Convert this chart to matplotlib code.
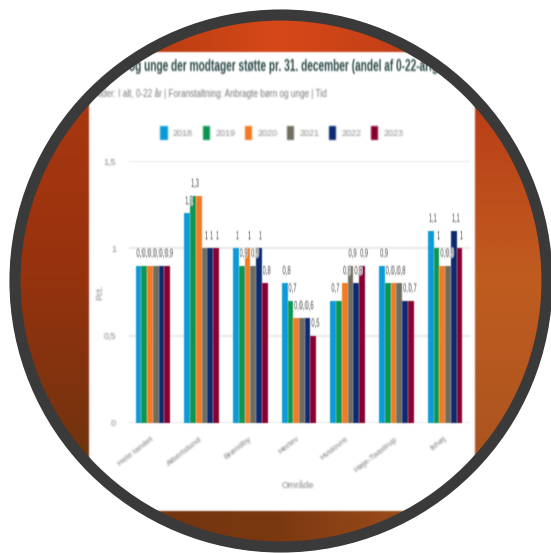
import numpy as np
import matplotlib
matplotlib.use("Agg")
import matplotlib.pyplot as plt
import matplotlib.patheffects as pe
from matplotlib.patches import Circle, Rectangle, Wedge

areas = ["Hele landet", "Albertslund", "Brøndby", "Herlev", "Hvidovre", "Høje-Taastrup", "Ishøj"]
years = ["2018", "2019", "2020", "2021", "2022", "2023"]
colors = ["#0a9bd8", "#0b9650", "#f27a22", "#6f6d5e", "#0b2a70", "#88002f"]
v2018 = [0.9, 1.2, 1.0, 0.8, 0.7, 0.9, 1.1]
v2019 = [0.9, 1.3, 0.9, 0.7, 0.7, 0.8, 1.0]
v2020 = [0.9, 1.3, 1.0, 0.6, 0.8, 0.8, 0.9]
v2021 = [0.9, 1.0, 0.9, 0.6, 0.9, 0.8, 0.9]
v2022 = [0.9, 1.0, 1.0, 0.6, 0.8, 0.7, 1.1]
v2023 = [0.9, 1.0, 0.8, 0.5, 0.9, 0.7, 1.0]
series = [v2018, v2019, v2020, v2021, v2022, v2023]
y_ticks = [0, 0.5, 1, 1.5]
y_tick_labels = ["0", "0,5", "1", "1,5"]
# labels the chart dropped because they collided: (area, year)
hidden_labels = [(1, 2), (4, 1)]

title = "Børn og unge der modtager støtte pr. 31. december (andel af 0-22-årige)"
subtitle = "Alder: I alt, 0-22 år | Foranstaltning: Anbragte børn og unge | Tid"

W, H = 551, 553
plt.rcParams["font.family"] = ["Liberation Sans", "DejaVu Sans"]


def soften(sigma, squeeze=1.0, anchor=0.0, shift=0):
    # blur of the upscaled screenshot, squeeze narrows condensed text
    def _filter(img, dpi):
        pad = int(3 * sigma) + 1
        a = np.pad(img, ((pad, pad), (pad, pad), (0, 0)))
        a[..., :3] *= a[..., 3:]
        ks = np.arange(-pad, pad + 1)
        ws = np.exp(-ks ** 2 / (2 * sigma ** 2))
        ws /= ws.sum()
        for axis in (0, 1):
            a = sum(w * np.roll(a, k, axis=axis) for k, w in zip(ks, ws))
        ox = -pad
        if squeeze != 1.0:
            w_old = a.shape[1]
            w_new = max(int(w_old * squeeze), 1)
            xs = np.linspace(0, w_old - 1.001, w_new)
            i0 = xs.astype(int)
            f = (xs - i0)[None, :, None]
            a = a[:, i0] * (1 - f) + a[:, i0 + 1] * f
            ox = int((w_old - w_new) * anchor) - int(pad * squeeze)
        alpha = np.maximum(a[..., 3:], 1e-4)
        a[..., :3] = np.clip(a[..., :3] / alpha, 0, 1)
        return a, ox + shift, -pad
    return _filter


fig = plt.figure(figsize=(W / 100, H / 100), dpi=100, facecolor="white")

# backdrop, in pixel coordinates
bg = fig.add_axes([0, 0, 1, 1])
bg.set_xlim(0, W)
bg.set_ylim(H, 0)
bg.axis("off")
backdrop = np.array([
    [[170, 56, 16], [214, 72, 24], [186, 60, 22]],
    [[150, 50, 14], [200, 70, 22], [192, 92, 32]],
    [[112, 52, 14], [122, 56, 16], [170, 84, 30]],
]) / 255
bg.imshow(backdrop, extent=(0, W, H, 0), interpolation="bilinear", aspect="auto", zorder=1)
card = Rectangle((89, 52), 386, 459, fc="white", ec="none", zorder=2)
bg.add_patch(card)
card.set_agg_filter(soften(0.8))

# title is wider than the canvas before the squeeze, so it starts at the edge and gets shifted
t = bg.text(1, 66, title, color="#2c4a48", fontsize=11.8, fontweight="bold", ha="left", va="center", zorder=3)
t.set_agg_filter(soften(0.9, 0.62, 0, 100))
t = bg.text(94, 94, subtitle, color="#777777", fontsize=7.6, ha="left", va="center", zorder=3)
t.set_agg_filter(soften(0.9, 0.78, 0))

# chart
ax = fig.add_axes([128.5 / W, 1 - 423 / H, 341 / W, 262 / H], facecolor="none", zorder=2)
x = np.arange(len(areas))
bar_w = 0.118
halo = [pe.withStroke(linewidth=1.6, foreground="white")]
for i, vals in enumerate(series):
    pos = x + (i - 2.5) * bar_w
    bars = ax.bar(pos, vals, bar_w, color=colors[i], label=years[i], zorder=3)
    for b in bars:
        b.set_agg_filter(soften(0.7))
for i, vals in enumerate(series):
    pos = x + (i - 2.5) * bar_w
    for j, v in enumerate(vals):
        if (j, i) in hidden_labels:
            continue
        s = f"{v:g}".replace(".", ",")
        lb = ax.text(pos[j], v + 0.035, s, ha="center", va="bottom", fontsize=8.5, color="#444444",
                     path_effects=halo, zorder=4)
        lb.set_agg_filter(soften(0.8, 0.52, 0.5))

ax.set_xlim(-0.5, len(areas) - 0.5)
ax.set_ylim(0, 1.5)
ax.set_yticks(y_ticks, y_tick_labels)
ax.set_xticks(x, areas)
ax.grid(axis="y", color="#e6e6e6", lw=1.2, zorder=0)
ax.tick_params(length=0)
ax.tick_params(axis="y", labelsize=6.5, labelcolor="#808080", pad=9)
ax.tick_params(axis="x", labelsize=6, labelcolor="#777777", pad=11)
for s in ax.spines.values():
    s.set_visible(False)
for lb in ax.get_xticklabels():
    lb.set_rotation(38)
    lb.set_ha("right")
    lb.set_va("center")
    lb.set_rotation_mode("anchor")
    lb.set_agg_filter(soften(0.9))
for lb in ax.get_yticklabels():
    lb.set_agg_filter(soften(0.9))
for g in ax.get_ygridlines():
    g.set_agg_filter(soften(0.8))

xl = bg.text(298, 485, "Område", color="#808080", fontsize=6.5, ha="center", va="center", zorder=3)
xl.set_agg_filter(soften(0.9))
yl = bg.text(100, 292, "Pct.", color="#808080", fontsize=6.5, rotation=90, ha="center", va="center", zorder=3)
yl.set_agg_filter(soften(0.9))

leg = fig.legend(loc="center", bbox_to_anchor=(282 / W, 1 - 133 / H), ncols=6, frameon=False,
                 handlelength=0.8, handleheight=1.9, handletextpad=0.6, columnspacing=1.05,
                 fontsize=6.5, labelcolor="#888888")
leg.set_agg_filter(soften(0.9))

# lens rim and white page round it, on top
top = fig.add_axes([0, 0, 1, 1], facecolor="none", zorder=5)
top.set_xlim(0, W)
top.set_ylim(H, 0)
top.axis("off")
top.add_patch(Wedge((281, 281), 700, 0, 360, width=700 - 271, fc="white", ec="none"))
top.add_patch(Circle((281, 281), 266, fc="none", ec="#3a3a3a", lw=8))

fig.savefig("out.png", dpi=100)
